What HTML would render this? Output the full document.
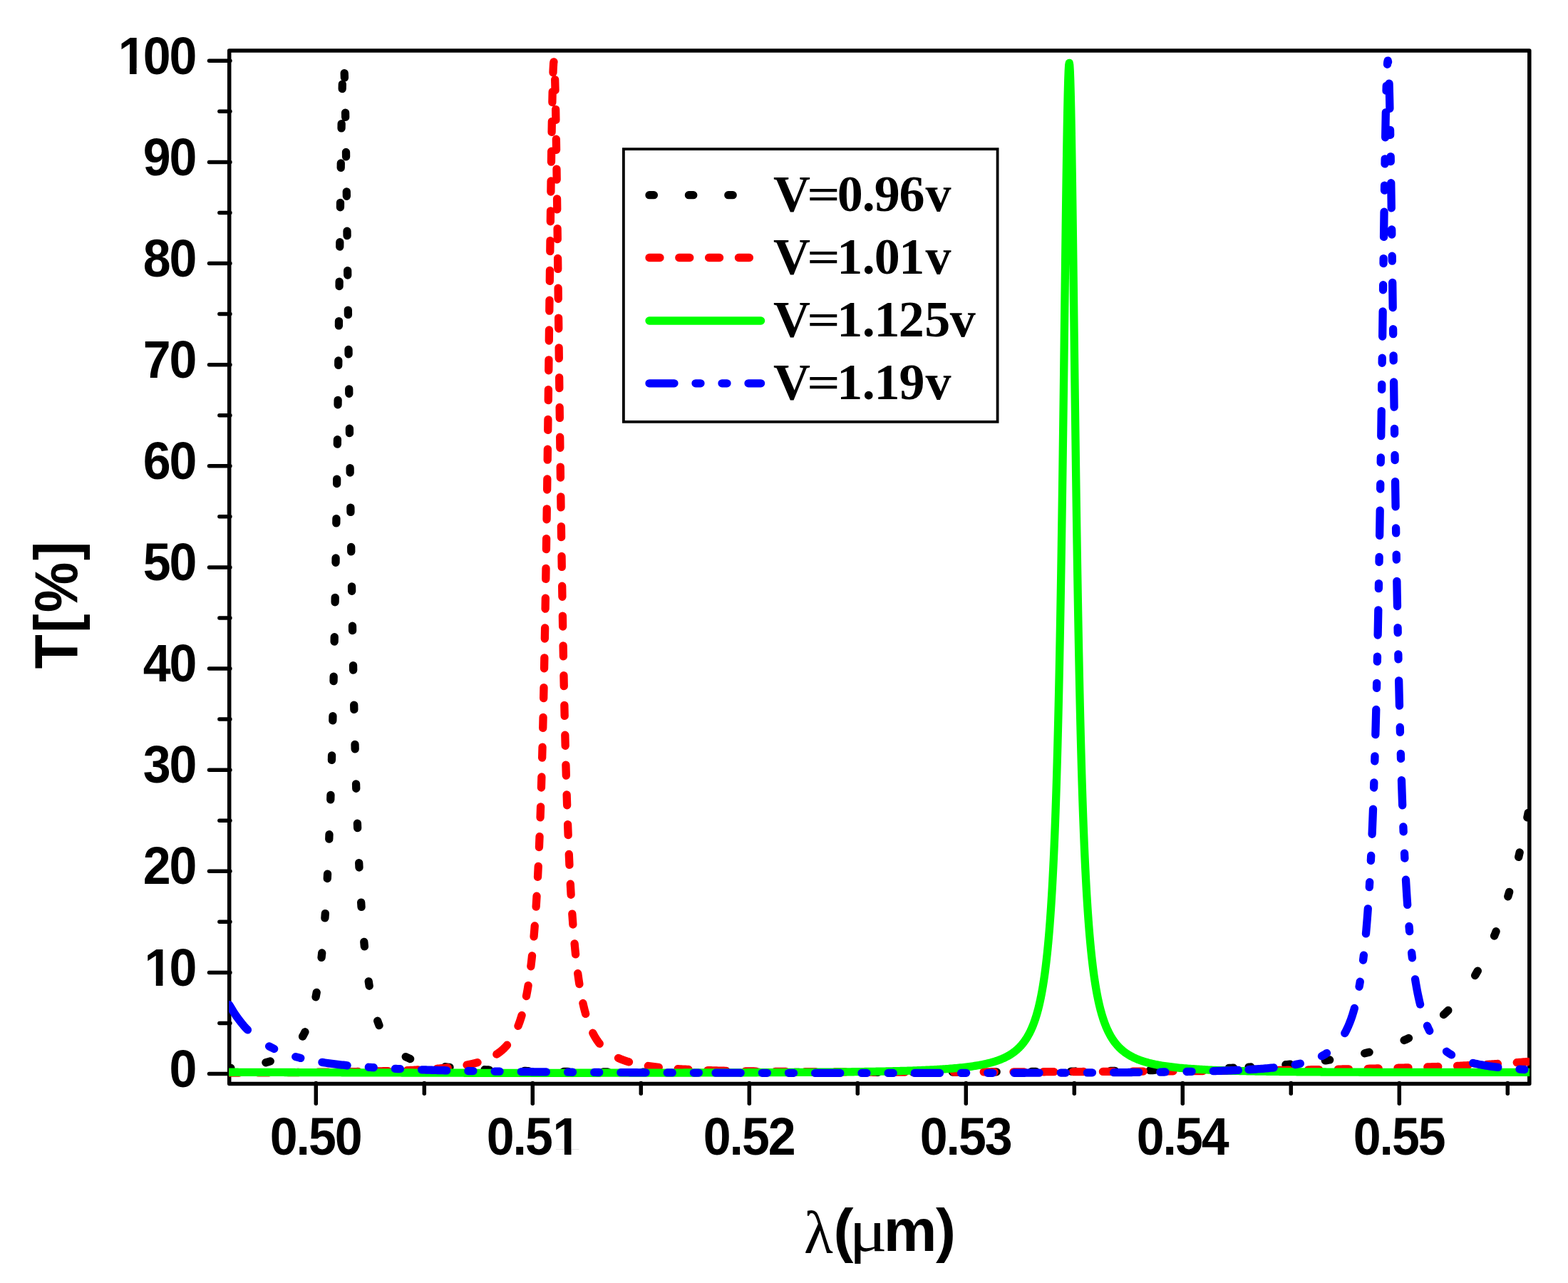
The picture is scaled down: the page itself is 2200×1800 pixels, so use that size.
<!DOCTYPE html><html><head><meta charset="utf-8"><style>html,body{margin:0;padding:0;background:#fff;width:2200px;height:1800px;overflow:hidden}svg{display:block}</style></head><body>
<svg width="2200" height="1800" viewBox="0 0 2200 1800">
<rect x="0" y="0" width="2200" height="1800" fill="#fff"/>
<g stroke="#000" fill="none" stroke-linecap="round">
<rect x="321.7" y="71.0" width="1824.1" height="1449.6" stroke-width="5.5" stroke-linejoin="round"/>
<line x1="322.9" y1="1506.50" x2="293.5" y2="1506.50" stroke-width="5.5"/>
<line x1="322.9" y1="1435.44" x2="307.9" y2="1435.44" stroke-width="5.5"/>
<line x1="322.9" y1="1364.38" x2="293.5" y2="1364.38" stroke-width="5.5"/>
<line x1="322.9" y1="1293.32" x2="307.9" y2="1293.32" stroke-width="5.5"/>
<line x1="322.9" y1="1222.26" x2="293.5" y2="1222.26" stroke-width="5.5"/>
<line x1="322.9" y1="1151.20" x2="307.9" y2="1151.20" stroke-width="5.5"/>
<line x1="322.9" y1="1080.14" x2="293.5" y2="1080.14" stroke-width="5.5"/>
<line x1="322.9" y1="1009.08" x2="307.9" y2="1009.08" stroke-width="5.5"/>
<line x1="322.9" y1="938.02" x2="293.5" y2="938.02" stroke-width="5.5"/>
<line x1="322.9" y1="866.96" x2="307.9" y2="866.96" stroke-width="5.5"/>
<line x1="322.9" y1="795.90" x2="293.5" y2="795.90" stroke-width="5.5"/>
<line x1="322.9" y1="724.84" x2="307.9" y2="724.84" stroke-width="5.5"/>
<line x1="322.9" y1="653.78" x2="293.5" y2="653.78" stroke-width="5.5"/>
<line x1="322.9" y1="582.72" x2="307.9" y2="582.72" stroke-width="5.5"/>
<line x1="322.9" y1="511.66" x2="293.5" y2="511.66" stroke-width="5.5"/>
<line x1="322.9" y1="440.60" x2="307.9" y2="440.60" stroke-width="5.5"/>
<line x1="322.9" y1="369.54" x2="293.5" y2="369.54" stroke-width="5.5"/>
<line x1="322.9" y1="298.48" x2="307.9" y2="298.48" stroke-width="5.5"/>
<line x1="322.9" y1="227.42" x2="293.5" y2="227.42" stroke-width="5.5"/>
<line x1="322.9" y1="156.36" x2="307.9" y2="156.36" stroke-width="5.5"/>
<line x1="322.9" y1="85.30" x2="293.5" y2="85.30" stroke-width="5.5"/>
<line x1="443.30" y1="1519.4" x2="443.30" y2="1548.2" stroke-width="5.5"/>
<line x1="595.30" y1="1519.4" x2="595.30" y2="1534.3" stroke-width="5.5"/>
<line x1="747.30" y1="1519.4" x2="747.30" y2="1548.2" stroke-width="5.5"/>
<line x1="899.30" y1="1519.4" x2="899.30" y2="1534.3" stroke-width="5.5"/>
<line x1="1051.30" y1="1519.4" x2="1051.30" y2="1548.2" stroke-width="5.5"/>
<line x1="1203.30" y1="1519.4" x2="1203.30" y2="1534.3" stroke-width="5.5"/>
<line x1="1355.30" y1="1519.4" x2="1355.30" y2="1548.2" stroke-width="5.5"/>
<line x1="1507.30" y1="1519.4" x2="1507.30" y2="1534.3" stroke-width="5.5"/>
<line x1="1659.30" y1="1519.4" x2="1659.30" y2="1548.2" stroke-width="5.5"/>
<line x1="1811.30" y1="1519.4" x2="1811.30" y2="1534.3" stroke-width="5.5"/>
<line x1="1963.30" y1="1519.4" x2="1963.30" y2="1548.2" stroke-width="5.5"/>
<line x1="2115.30" y1="1519.4" x2="2115.30" y2="1534.3" stroke-width="5.5"/>
</g>
<defs><clipPath id="pc"><rect x="321.10" y="61.0" width="1824.95" height="1459.6"/></clipPath></defs>
<g clip-path="url(#pc)" fill="none" stroke-width="11.3" stroke-linecap="round" stroke-linejoin="round">
<path d="M321.70,1498.51 L323.70,1498.34 L323.90,1498.32M372.90,1490.74 L373.00,1490.71 L373.50,1490.58 L373.70,1490.52 L374.00,1490.44 L374.50,1490.31 L375.00,1490.17 L375.50,1490.03 L375.70,1489.97 L376.00,1489.88 L376.50,1489.74 L377.00,1489.59 L377.50,1489.44 L377.70,1489.38 L378.00,1489.29 L378.50,1489.14 L379.00,1488.98 L379.30,1488.89M424.57,1454.16 L425.00,1453.41 L425.50,1452.52 L425.70,1452.16 L426.00,1451.61 L426.50,1450.68 L427.00,1449.72 L427.50,1448.74 L427.70,1448.34 L427.98,1447.76M443.03,1398.76 L443.50,1396.34 L443.70,1395.29 L444.00,1393.68 L444.24,1392.36M451.06,1343.36 L451.50,1339.26 L451.70,1337.32 L451.74,1336.96M455.89,1287.96 L456.00,1286.45 L456.34,1281.56M459.24,1232.56 L459.50,1227.44 L459.56,1226.16M461.76,1177.16 L462.00,1171.02 L462.01,1170.76M463.76,1121.76 L463.96,1115.36M465.41,1066.36 L465.50,1063.05 L465.58,1059.96M466.81,1010.96 L466.96,1004.56M468.04,955.56 L468.17,949.16M469.12,900.16 L469.24,893.76M470.10,844.76 L470.21,838.36M471.00,789.36 L471.00,789.16 L471.09,782.96M471.82,733.96 L471.92,727.56M472.60,678.56 L472.69,672.16M473.34,623.16 L473.42,616.76M474.04,567.76 L474.12,561.36M474.72,512.36 L474.80,505.96M475.40,456.96 L475.47,450.56M476.06,401.56 L476.14,395.16M476.74,346.16 L476.82,339.76M477.44,290.76 L477.50,286.26 L477.52,284.36M478.20,235.36 L478.29,228.96M479.05,179.96 L479.16,173.56M480.16,124.56 L480.32,118.16M483.19,102.65 L483.42,109.05M484.56,158.05 L484.68,164.45M485.49,213.45 L485.50,214.26 L485.58,219.85M486.27,268.85 L486.35,275.25M486.99,324.25 L487.00,325.32 L487.07,330.65M487.67,379.65 L487.70,382.08 L487.75,386.05M488.34,435.05 L488.42,441.45M489.01,490.45 L489.09,496.85M489.69,545.85 L489.70,547.02 L489.77,552.25M490.38,601.25 L490.46,607.65M491.10,656.65 L491.19,663.05M491.86,712.05 L491.95,718.45M492.67,767.45 L492.77,773.85M493.54,822.85 L493.64,829.25M494.48,878.25 L494.50,879.48 L494.59,884.65M495.52,933.65 L495.65,940.05M496.69,989.05 L496.83,995.45M498.01,1044.45 L498.18,1050.85M499.55,1099.85 L499.70,1104.62 L499.75,1106.25M501.40,1155.25 L501.50,1157.90 L501.64,1161.65M503.69,1210.65 L503.70,1210.90 L503.99,1217.05M506.66,1266.05 L507.00,1271.52 L507.06,1272.45M510.78,1321.45 L511.00,1323.88 L511.37,1327.85M517.20,1376.85 L517.50,1378.85 L517.70,1380.13 L518.00,1382.03 L518.20,1383.25M529.67,1432.25 L529.70,1432.34 L530.00,1433.20 L530.50,1434.60 L531.00,1435.97 L531.50,1437.29 L531.70,1437.81 L532.00,1438.58 L532.03,1438.65M569.21,1482.61 L569.50,1482.76 L569.70,1482.86 L570.00,1483.01 L570.50,1483.26 L571.00,1483.50 L571.50,1483.74 L571.70,1483.83 L572.00,1483.97 L572.50,1484.20 L573.00,1484.43 L573.50,1484.65 L573.70,1484.74 L574.00,1484.87 L574.50,1485.09 L575.00,1485.30 L575.50,1485.51 L575.61,1485.56M624.61,1496.67 L625.70,1496.80 L627.70,1497.03 L629.70,1497.25 L631.01,1497.39M680.01,1500.76 L681.70,1500.83 L683.70,1500.92 L685.70,1501.00 L686.41,1501.03M735.41,1502.46 L735.70,1502.47 L737.70,1502.51 L739.70,1502.55 L741.70,1502.59 L741.81,1502.59M790.81,1503.33 L791.70,1503.34 L793.70,1503.36 L795.70,1503.38 L797.21,1503.40M846.21,1503.81 L847.70,1503.82 L849.70,1503.83 L851.70,1503.85 L852.61,1503.85M901.61,1504.10 L901.70,1504.10 L903.70,1504.11 L905.70,1504.11 L907.70,1504.12 L908.01,1504.12M957.01,1504.27 L957.70,1504.27 L959.70,1504.28 L961.70,1504.28 L963.41,1504.29M1004.00,1504.36 L1005.70,1504.36 L1007.70,1504.37 L1009.70,1504.37 L1010.40,1504.37M1059.40,1504.42 L1059.70,1504.42 L1061.70,1504.42 L1063.70,1504.42 L1065.70,1504.42 L1065.80,1504.42M1114.80,1504.43 L1115.70,1504.43 L1117.70,1504.43 L1119.70,1504.43 L1121.20,1504.43M1170.20,1504.40 L1171.70,1504.40 L1173.70,1504.40 L1175.70,1504.39 L1176.60,1504.39M1225.60,1504.33 L1225.70,1504.33 L1227.70,1504.33 L1229.70,1504.32 L1231.70,1504.32 L1232.00,1504.32M1281.00,1504.22 L1281.70,1504.22 L1283.70,1504.21 L1285.70,1504.21 L1287.40,1504.20M1336.40,1504.06 L1337.70,1504.05 L1339.70,1504.05 L1341.70,1504.04 L1342.80,1504.04M1391.80,1503.83 L1393.70,1503.82 L1395.70,1503.81 L1397.70,1503.80 L1398.20,1503.80M1447.20,1503.51 L1447.70,1503.51 L1449.70,1503.50 L1451.70,1503.48 L1453.60,1503.47M1502.60,1503.07 L1503.70,1503.06 L1505.70,1503.05 L1507.70,1503.03 L1509.00,1503.01M1558.00,1502.46 L1559.70,1502.44 L1561.70,1502.41 L1563.70,1502.38 L1564.40,1502.37M1613.40,1501.59 L1613.70,1501.58 L1615.70,1501.54 L1617.70,1501.50 L1619.70,1501.47 L1619.80,1501.46M1668.80,1500.32 L1669.70,1500.29 L1671.70,1500.24 L1673.70,1500.18 L1675.20,1500.14M1724.20,1498.42 L1725.70,1498.36 L1727.70,1498.27 L1729.70,1498.19 L1730.60,1498.15M1752.00,1497.12 L1753.70,1497.03 L1754.90,1496.97M1803.90,1493.73 L1805.70,1493.58 L1807.70,1493.41 L1809.70,1493.24 L1810.30,1493.19M1859.30,1487.88 L1859.70,1487.83 L1861.70,1487.55 L1863.70,1487.27 L1865.70,1486.99M1914.70,1477.82 L1915.70,1477.59 L1917.70,1477.10 L1919.70,1476.60 L1921.10,1476.24M1970.10,1459.47 L1971.70,1458.75 L1973.70,1457.82 L1975.70,1456.87 L1976.50,1456.48M2025.50,1423.58 L2025.70,1423.40 L2027.70,1421.55 L2029.70,1419.66 L2031.70,1417.71 L2031.90,1417.51M2069.60,1368.51 L2069.70,1368.34 L2071.70,1364.93 L2073.31,1362.11M2096.55,1313.11 L2097.70,1310.25 L2099.08,1306.71M2115.77,1257.71 L2117.67,1251.31M2130.67,1202.31 L2131.70,1198.04 L2132.20,1195.91M2142.86,1146.91 L2143.70,1142.76 L2144.14,1140.51" stroke="#000000"/>
<path d="M321.70,1505.09 L323.70,1505.08 L325.70,1505.07 L327.70,1505.06 L329.70,1505.05 L331.70,1505.04 L333.70,1505.03 L335.61,1505.03M362.41,1504.89 L363.70,1504.89 L365.70,1504.87 L367.70,1504.86 L369.70,1504.85 L371.70,1504.84 L373.70,1504.83 L375.70,1504.82 L377.41,1504.81M404.21,1504.63 L405.70,1504.62 L407.70,1504.60 L409.70,1504.59 L411.70,1504.57 L413.70,1504.56 L415.70,1504.54 L417.70,1504.52 L419.21,1504.51M446.01,1504.27 L447.70,1504.25 L449.70,1504.23 L451.70,1504.21 L453.70,1504.19 L455.70,1504.16 L457.70,1504.14 L459.70,1504.12 L461.01,1504.10M487.81,1503.75 L489.70,1503.72 L491.70,1503.69 L493.70,1503.66 L495.70,1503.62 L497.70,1503.59 L499.70,1503.56 L501.70,1503.52 L502.81,1503.50M529.61,1502.96 L529.70,1502.96 L531.70,1502.91 L533.70,1502.86 L535.70,1502.81 L537.70,1502.76 L539.70,1502.70 L541.70,1502.65 L543.70,1502.59 L544.61,1502.57M571.41,1501.66 L571.70,1501.64 L573.70,1501.56 L575.70,1501.48 L577.70,1501.39 L579.70,1501.30 L581.70,1501.21 L583.70,1501.11 L585.70,1501.01 L586.41,1500.97M613.21,1499.27 L613.70,1499.23 L615.70,1499.06 L617.70,1498.89 L619.70,1498.72 L621.70,1498.54 L623.70,1498.35 L625.70,1498.15 L627.70,1497.95 L628.21,1497.89M655.01,1494.08 L655.70,1493.95 L657.15,1493.67 L657.65,1493.56 L657.70,1493.55 L658.15,1493.46 L658.65,1493.36 L659.15,1493.26 L659.65,1493.15 L659.70,1493.14 L660.15,1493.04 L660.65,1492.93 L661.15,1492.82 L661.65,1492.71 L661.70,1492.70 L662.15,1492.60 L662.65,1492.49 L663.15,1492.37 L663.65,1492.25 L663.70,1492.24 L664.15,1492.14 L664.65,1492.02 L665.15,1491.89 L665.65,1491.77 L665.70,1491.76 L666.15,1491.65 L666.65,1491.52 L667.15,1491.39 L667.65,1491.26 L667.70,1491.25 L668.15,1491.13 L668.65,1491.00 L669.15,1490.86 L669.65,1490.72 L669.70,1490.71 L670.01,1490.62M696.81,1479.08 L697.15,1478.86 L697.65,1478.53 L697.70,1478.49 L698.15,1478.19 L698.65,1477.84 L699.15,1477.49 L699.65,1477.13 L699.70,1477.10 L700.15,1476.77 L700.65,1476.40 L701.15,1476.02 L701.65,1475.63 L701.70,1475.59 L702.15,1475.24 L702.65,1474.84 L703.15,1474.43 L703.65,1474.01 L703.70,1473.97 L704.15,1473.59 L704.65,1473.15 L705.15,1472.71 L705.65,1472.26 L705.70,1472.21 L706.15,1471.79 L706.65,1471.32 L707.15,1470.84 L707.65,1470.35 L707.70,1470.30 L708.15,1469.85 L708.65,1469.34 L709.15,1468.82 L709.65,1468.28 L709.70,1468.23 L710.15,1467.74 L710.65,1467.18 L711.15,1466.61 L711.51,1466.19M726.98,1439.39 L727.15,1438.96 L727.65,1437.67 L727.70,1437.54 L728.15,1436.35 L728.65,1434.98 L729.15,1433.58 L729.65,1432.13 L729.70,1431.98 L730.15,1430.64 L730.65,1429.10 L731.15,1427.52 L731.65,1425.89 L731.70,1425.73 L732.10,1424.39M738.47,1397.59 L738.65,1396.68 L739.15,1394.02 L739.65,1391.26 L739.70,1390.98 L740.15,1388.41 L740.65,1385.45 L741.11,1382.59M744.83,1355.79 L745.15,1353.15 L745.65,1348.81 L745.70,1348.36 L746.15,1344.29 L746.52,1340.79M749.05,1313.99 L749.15,1312.80 L749.65,1306.72 L749.70,1306.10 L750.15,1300.36 L750.25,1298.99M752.13,1272.19 L752.15,1271.83 L752.65,1263.83 L753.05,1257.19M754.51,1230.39 L754.65,1227.72 L755.15,1217.53 L755.25,1215.39M756.44,1188.59 L756.65,1183.74 L757.06,1173.59M758.06,1146.79 L758.15,1144.35 L758.58,1131.79M759.44,1104.99 L759.65,1098.29 L759.70,1096.63 L759.89,1089.99M760.65,1063.19 L761.05,1048.19M761.72,1021.39 L762.08,1006.39M762.68,979.59 L763.00,964.59M763.55,937.79 L763.65,932.93 L763.70,930.40 L763.85,922.79M764.35,895.99 L764.63,880.99M765.09,854.19 L765.15,850.95 L765.35,839.19M765.78,812.39 L766.02,797.39M766.43,770.59 L766.65,756.31 L766.66,755.59M767.05,728.79 L767.15,721.90 L767.26,713.79M767.64,686.99 L767.65,686.11 L767.70,682.45 L767.84,671.99M768.20,645.19 L768.40,630.19M768.74,603.39 L768.93,588.39M769.27,561.59 L769.45,546.59M769.78,519.79 L769.97,504.79M770.29,477.99 L770.47,462.99M770.80,436.19 L770.98,421.19M771.30,394.39 L771.48,379.39M771.81,352.59 L772.00,337.59M772.34,310.79 L772.53,295.79M772.88,268.99 L773.08,253.99M773.46,227.19 L773.65,214.22 L773.68,212.19M774.10,185.39 L774.15,182.47 L774.36,170.39M774.88,143.59 L775.15,130.47 L775.20,128.59M775.99,101.79 L776.15,97.25 L776.65,88.70 L776.98,86.79M778.66,111.65 L779.05,126.65M779.63,153.45 L779.65,154.36 L779.70,156.99 L779.90,168.45M780.35,195.25 L780.59,210.25M780.98,237.05 L781.15,249.00 L781.19,252.05M781.55,278.85 L781.65,286.22 L781.70,290.06 L781.75,293.85M782.09,320.65 L782.15,325.30 L782.28,335.65M782.61,362.45 L782.65,365.68 L782.79,377.45M783.12,404.25 L783.15,406.85 L783.30,419.25M783.62,446.05 L783.65,448.35 L783.70,452.51 L783.80,461.05M784.13,487.85 L784.15,489.79 L784.31,502.85M784.64,529.65 L784.65,530.83 L784.82,544.65M785.15,571.45 L785.34,586.45M785.68,613.25 L785.70,614.51 L785.88,628.25M786.23,655.05 L786.43,670.05M786.80,696.85 L787.01,711.85M787.39,738.65 L787.61,753.65M788.02,780.45 L788.15,789.28 L788.25,795.45M788.67,822.25 L788.92,837.25M789.38,864.05 L789.64,879.05M790.13,905.85 L790.15,906.94 L790.42,920.85M790.95,947.65 L791.15,957.57 L791.26,962.65M791.84,989.45 L792.15,1003.21 L792.18,1004.45M792.82,1031.25 L793.15,1044.28 L793.20,1046.25M793.92,1073.05 L794.15,1081.21 L794.35,1088.05M795.16,1114.85 L795.65,1129.76 L795.65,1129.85M796.60,1156.65 L796.65,1158.12 L797.15,1171.24 L797.17,1171.65M798.28,1198.45 L798.65,1206.79 L798.96,1213.45M800.31,1240.25 L800.65,1246.60 L801.14,1255.25M802.83,1282.05 L803.15,1286.69 L803.65,1293.65 L803.70,1294.33 L803.90,1297.05M806.12,1323.85 L806.15,1324.15 L806.65,1329.49 L807.15,1334.61 L807.58,1338.85M810.72,1365.65 L811.15,1368.82 L811.65,1372.38 L811.70,1372.73 L812.15,1375.81 L812.65,1379.12 L812.89,1380.65M817.89,1407.45 L818.15,1408.60 L818.65,1410.77 L819.15,1412.86 L819.65,1414.89 L819.70,1415.09 L820.15,1416.86 L820.65,1418.76 L821.15,1420.60 L821.65,1422.39 L821.67,1422.45M831.78,1449.25 L832.15,1449.98 L832.65,1450.93 L833.15,1451.87 L833.65,1452.78 L833.70,1452.87 L834.15,1453.67 L834.65,1454.53 L835.15,1455.37 L835.65,1456.20 L835.70,1456.28 L836.15,1457.00 L836.65,1457.79 L837.15,1458.55 L837.65,1459.30 L837.70,1459.37 L838.15,1460.03 L838.65,1460.74 L839.15,1461.44 L839.65,1462.12 L839.70,1462.19 L840.15,1462.79 L840.65,1463.44 L841.15,1464.07 L841.29,1464.25M867.49,1484.39 L867.65,1484.46 L867.70,1484.48 L868.15,1484.69 L868.65,1484.91 L869.15,1485.13 L869.65,1485.34 L869.70,1485.37 L870.15,1485.56 L870.65,1485.77 L871.15,1485.97 L871.65,1486.17 L871.70,1486.19 L872.15,1486.37 L872.65,1486.57 L873.15,1486.76 L873.65,1486.95 L873.70,1486.97 L874.15,1487.14 L874.65,1487.33 L875.15,1487.51 L875.65,1487.69 L875.70,1487.71 L876.15,1487.86 L876.65,1488.04 L877.15,1488.21 L877.65,1488.38 L877.70,1488.39 L878.15,1488.54 L878.65,1488.71 L879.15,1488.87 L879.65,1489.03 L879.70,1489.05 L880.15,1489.19 L880.65,1489.34 L881.15,1489.49 L881.65,1489.64 L881.70,1489.66 L882.15,1489.79 L882.49,1489.89M909.29,1495.50 L909.70,1495.56 L911.70,1495.85 L913.70,1496.12 L915.70,1496.39 L917.70,1496.64 L919.70,1496.88 L921.70,1497.11 L923.70,1497.33 L924.29,1497.39M951.09,1499.64 L951.70,1499.67 L953.70,1499.80 L955.70,1499.92 L957.70,1500.04 L959.70,1500.15 L961.70,1500.26 L963.70,1500.37 L965.70,1500.47 L966.09,1500.49M992.89,1501.59 L993.70,1501.61 L995.70,1501.68 L997.70,1501.74 L999.70,1501.80 L1001.70,1501.86 L1003.70,1501.92 L1004.00,1501.93M1004.00,1501.93 L1005.70,1501.97 L1007.70,1502.03 L1009.70,1502.08 L1011.70,1502.13 L1013.70,1502.18 L1015.70,1502.23 L1017.70,1502.28 L1019.00,1502.31M1045.80,1502.83 L1047.70,1502.86 L1049.70,1502.89 L1051.70,1502.92 L1053.70,1502.95 L1055.70,1502.98 L1057.70,1503.01 L1059.70,1503.04 L1060.80,1503.05M1087.60,1503.37 L1087.70,1503.37 L1089.70,1503.39 L1091.70,1503.41 L1093.70,1503.42 L1095.70,1503.44 L1097.70,1503.46 L1099.70,1503.48 L1101.70,1503.49 L1102.60,1503.50M1129.40,1503.69 L1129.70,1503.69 L1131.70,1503.70 L1133.70,1503.72 L1135.70,1503.73 L1137.70,1503.74 L1139.70,1503.75 L1141.70,1503.76 L1143.70,1503.77 L1144.40,1503.77M1171.20,1503.89 L1171.70,1503.89 L1173.70,1503.90 L1175.70,1503.90 L1177.70,1503.91 L1179.70,1503.92 L1181.70,1503.92 L1183.70,1503.93 L1185.70,1503.93 L1186.20,1503.94M1213.00,1504.00 L1213.70,1504.00 L1215.70,1504.00 L1217.70,1504.01 L1219.70,1504.01 L1221.70,1504.01 L1223.70,1504.02 L1225.70,1504.02 L1227.70,1504.02 L1228.00,1504.02M1254.80,1504.05 L1255.70,1504.05 L1257.70,1504.05 L1259.70,1504.05 L1261.70,1504.05 L1263.70,1504.05 L1265.70,1504.05 L1267.70,1504.06 L1269.70,1504.06 L1269.80,1504.06M1296.60,1504.05 L1297.70,1504.05 L1299.70,1504.05 L1301.70,1504.05 L1303.70,1504.05 L1305.70,1504.05 L1307.70,1504.05 L1309.70,1504.05 L1311.60,1504.05M1338.40,1504.02 L1339.70,1504.02 L1341.70,1504.02 L1343.70,1504.01 L1345.70,1504.01 L1347.70,1504.01 L1349.70,1504.01 L1351.70,1504.00 L1353.40,1504.00M1380.20,1503.96 L1381.70,1503.95 L1383.70,1503.95 L1385.70,1503.94 L1387.70,1503.94 L1389.70,1503.94 L1391.70,1503.93 L1393.70,1503.93 L1395.20,1503.92M1422.00,1503.86 L1423.70,1503.86 L1425.70,1503.85 L1427.70,1503.85 L1429.70,1503.84 L1431.70,1503.83 L1433.70,1503.83 L1435.70,1503.82 L1437.00,1503.82M1463.80,1503.74 L1465.70,1503.73 L1467.70,1503.72 L1469.70,1503.72 L1471.70,1503.71 L1473.70,1503.70 L1475.70,1503.70 L1477.70,1503.69 L1478.80,1503.69M1505.60,1503.58 L1505.70,1503.58 L1507.70,1503.57 L1509.70,1503.57 L1511.70,1503.56 L1513.70,1503.55 L1515.70,1503.54 L1517.70,1503.53 L1519.70,1503.52 L1520.60,1503.52M1547.40,1503.40 L1547.70,1503.40 L1549.70,1503.39 L1551.70,1503.38 L1553.70,1503.37 L1555.70,1503.36 L1557.70,1503.35 L1559.70,1503.34 L1561.70,1503.33 L1562.40,1503.32M1589.20,1503.18 L1589.70,1503.18 L1591.70,1503.17 L1593.70,1503.15 L1595.70,1503.14 L1597.70,1503.13 L1599.70,1503.12 L1601.70,1503.11 L1603.70,1503.09 L1604.20,1503.09M1631.00,1502.92 L1631.70,1502.92 L1633.70,1502.90 L1635.70,1502.89 L1637.70,1502.88 L1639.70,1502.86 L1641.70,1502.85 L1643.70,1502.83 L1645.70,1502.82 L1646.00,1502.82M1672.80,1502.62 L1673.70,1502.61 L1675.70,1502.60 L1677.70,1502.58 L1679.70,1502.56 L1681.70,1502.55 L1683.70,1502.53 L1685.70,1502.52 L1687.70,1502.50 L1687.80,1502.50M1714.60,1502.26 L1715.70,1502.25 L1717.70,1502.23 L1719.70,1502.22 L1721.70,1502.20 L1723.70,1502.18 L1725.70,1502.16 L1727.70,1502.14 L1729.60,1502.12M1752.00,1501.89 L1753.70,1501.87 L1755.70,1501.85 L1757.70,1501.83 L1759.70,1501.81 L1761.70,1501.79 L1763.70,1501.76 L1765.70,1501.74 L1767.00,1501.73M1793.80,1501.41 L1795.70,1501.38 L1797.70,1501.36 L1799.70,1501.33 L1801.70,1501.31 L1803.70,1501.28 L1805.70,1501.25 L1807.70,1501.23 L1808.80,1501.21M1835.60,1500.83 L1835.70,1500.83 L1837.70,1500.80 L1839.70,1500.77 L1841.70,1500.74 L1843.70,1500.71 L1845.70,1500.67 L1847.70,1500.64 L1849.70,1500.61 L1850.60,1500.60M1877.40,1500.14 L1877.70,1500.13 L1879.70,1500.10 L1881.70,1500.06 L1883.70,1500.02 L1885.70,1499.98 L1887.70,1499.95 L1889.70,1499.91 L1891.70,1499.87 L1892.40,1499.86M1919.20,1499.30 L1919.70,1499.29 L1921.70,1499.25 L1923.70,1499.20 L1925.70,1499.15 L1927.70,1499.11 L1929.70,1499.06 L1931.70,1499.02 L1933.70,1498.97 L1934.20,1498.96M1961.00,1498.28 L1961.70,1498.26 L1963.70,1498.20 L1965.70,1498.15 L1967.70,1498.09 L1969.70,1498.04 L1971.70,1497.98 L1973.70,1497.92 L1975.70,1497.86 L1976.00,1497.85M2002.80,1497.01 L2003.70,1496.98 L2005.70,1496.91 L2007.70,1496.84 L2009.70,1496.77 L2011.70,1496.70 L2013.70,1496.63 L2015.70,1496.55 L2017.70,1496.48 L2017.80,1496.48M2044.60,1495.41 L2045.70,1495.36 L2047.70,1495.28 L2049.70,1495.19 L2051.70,1495.10 L2053.70,1495.01 L2055.70,1494.92 L2057.70,1494.82 L2059.60,1494.74M2086.40,1493.36 L2087.70,1493.29 L2089.70,1493.18 L2091.70,1493.06 L2093.70,1492.95 L2095.70,1492.83 L2097.70,1492.71 L2099.70,1492.59 L2101.40,1492.48M2128.20,1490.68 L2129.70,1490.57 L2131.70,1490.41 L2133.70,1490.26 L2135.70,1490.11 L2137.70,1489.95 L2139.70,1489.79 L2141.70,1489.63 L2143.20,1489.51" stroke="#ff0000"/>
<path d="M321.70,1504.24 L323.70,1504.24 L325.70,1504.25 L327.70,1504.26 L329.70,1504.26 L331.70,1504.27 L333.70,1504.27 L335.70,1504.28 L337.70,1504.29 L339.70,1504.29 L341.70,1504.30 L343.70,1504.31 L345.70,1504.31 L347.70,1504.32 L349.70,1504.32 L351.70,1504.33 L353.70,1504.34 L355.70,1504.34 L357.70,1504.35 L359.70,1504.36 L361.70,1504.36 L363.70,1504.37 L365.70,1504.37 L367.70,1504.38 L369.70,1504.39 L371.70,1504.39 L373.70,1504.40 L375.70,1504.41 L377.70,1504.41 L379.70,1504.42 L381.70,1504.42 L383.70,1504.43 L385.70,1504.44 L387.70,1504.44 L389.70,1504.45 L391.70,1504.46 L393.70,1504.46 L395.70,1504.47 L397.70,1504.47 L399.70,1504.48 L401.70,1504.49 L403.70,1504.49 L405.70,1504.50 L407.70,1504.51 L409.70,1504.51 L411.70,1504.52 L413.70,1504.52 L415.70,1504.53 L417.70,1504.54 L419.70,1504.54 L421.70,1504.55 L423.70,1504.56 L425.70,1504.56 L427.70,1504.57 L429.70,1504.57 L431.70,1504.58 L433.70,1504.59 L435.70,1504.59 L437.70,1504.60 L439.70,1504.60 L441.70,1504.61 L443.70,1504.62 L445.70,1504.62 L447.70,1504.63 L449.70,1504.64 L451.70,1504.64 L453.70,1504.65 L455.70,1504.65 L457.70,1504.66 L459.70,1504.67 L461.70,1504.67 L463.70,1504.68 L465.70,1504.68 L467.70,1504.69 L469.70,1504.70 L471.70,1504.70 L473.70,1504.71 L475.70,1504.71 L477.70,1504.72 L479.70,1504.73 L481.70,1504.73 L483.70,1504.74 L485.70,1504.75 L487.70,1504.75 L489.70,1504.76 L491.70,1504.76 L493.70,1504.77 L495.70,1504.78 L497.70,1504.78 L499.70,1504.79 L501.70,1504.79 L503.70,1504.80 L505.70,1504.81 L507.70,1504.81 L509.70,1504.82 L511.70,1504.82 L513.70,1504.83 L515.70,1504.84 L517.70,1504.84 L519.70,1504.85 L521.70,1504.85 L523.70,1504.86 L525.70,1504.87 L527.70,1504.87 L529.70,1504.88 L531.70,1504.88 L533.70,1504.89 L535.70,1504.90 L537.70,1504.90 L539.70,1504.91 L541.70,1504.91 L543.70,1504.92 L545.70,1504.92 L547.70,1504.93 L549.70,1504.94 L551.70,1504.94 L553.70,1504.95 L555.70,1504.95 L557.70,1504.96 L559.70,1504.97 L561.70,1504.97 L563.70,1504.98 L565.70,1504.98 L567.70,1504.99 L569.70,1505.00 L571.70,1505.00 L573.70,1505.01 L575.70,1505.01 L577.70,1505.02 L579.70,1505.02 L581.70,1505.03 L583.70,1505.04 L585.70,1505.04 L587.70,1505.05 L589.70,1505.05 L591.70,1505.06 L593.70,1505.07 L595.70,1505.07 L597.70,1505.08 L599.70,1505.08 L601.70,1505.09 L603.70,1505.09 L605.70,1505.10 L607.70,1505.11 L609.70,1505.11 L611.70,1505.12 L613.70,1505.12 L615.70,1505.13 L617.70,1505.13 L619.70,1505.14 L621.70,1505.15 L623.70,1505.15 L625.70,1505.16 L627.70,1505.16 L629.70,1505.17 L631.70,1505.17 L633.70,1505.18 L635.70,1505.19 L637.70,1505.19 L639.70,1505.20 L641.70,1505.20 L643.70,1505.21 L645.70,1505.21 L647.70,1505.22 L649.70,1505.22 L651.70,1505.23 L653.70,1505.24 L655.70,1505.24 L657.70,1505.25 L659.70,1505.25 L661.70,1505.26 L663.70,1505.26 L665.70,1505.27 L667.70,1505.27 L669.70,1505.28 L671.70,1505.29 L673.70,1505.29 L675.70,1505.30 L677.70,1505.30 L679.70,1505.31 L681.70,1505.31 L683.70,1505.32 L685.70,1505.32 L687.70,1505.33 L689.70,1505.33 L691.70,1505.34 L693.70,1505.34 L695.70,1505.35 L697.70,1505.36 L699.70,1505.36 L701.70,1505.36 L703.70,1505.36 L705.70,1505.36 L707.70,1505.36 L709.70,1505.35 L711.70,1505.35 L713.70,1505.35 L715.70,1505.35 L717.70,1505.35 L719.70,1505.35 L721.70,1505.35 L723.70,1505.34 L725.70,1505.34 L727.70,1505.34 L729.70,1505.34 L731.70,1505.34 L733.70,1505.34 L735.70,1505.33 L737.70,1505.33 L739.70,1505.33 L741.70,1505.33 L743.70,1505.33 L745.70,1505.33 L747.70,1505.32 L749.70,1505.32 L751.70,1505.32 L753.70,1505.32 L755.70,1505.32 L757.70,1505.32 L759.70,1505.31 L761.70,1505.31 L763.70,1505.31 L765.70,1505.31 L767.70,1505.31 L769.70,1505.30 L771.70,1505.30 L773.70,1505.30 L775.70,1505.30 L777.70,1505.30 L779.70,1505.30 L781.70,1505.29 L783.70,1505.29 L785.70,1505.29 L787.70,1505.29 L789.70,1505.29 L791.70,1505.28 L793.70,1505.28 L795.70,1505.28 L797.70,1505.28 L799.70,1505.27 L801.70,1505.27 L803.70,1505.27 L805.70,1505.27 L807.70,1505.27 L809.70,1505.26 L811.70,1505.26 L813.70,1505.26 L815.70,1505.26 L817.70,1505.25 L819.70,1505.25 L821.70,1505.25 L823.70,1505.25 L825.70,1505.25 L827.70,1505.24 L829.70,1505.24 L831.70,1505.24 L833.70,1505.24 L835.70,1505.23 L837.70,1505.23 L839.70,1505.23 L841.70,1505.23 L843.70,1505.22 L845.70,1505.22 L847.70,1505.22 L849.70,1505.22 L851.70,1505.21 L853.70,1505.21 L855.70,1505.21 L857.70,1505.20 L859.70,1505.20 L861.70,1505.20 L863.70,1505.20 L865.70,1505.19 L867.70,1505.19 L869.70,1505.19 L871.70,1505.18 L873.70,1505.18 L875.70,1505.18 L877.70,1505.18 L879.70,1505.17 L881.70,1505.17 L883.70,1505.17 L885.70,1505.16 L887.70,1505.16 L889.70,1505.16 L891.70,1505.15 L893.70,1505.15 L895.70,1505.15 L897.70,1505.14 L899.70,1505.14 L901.70,1505.14 L903.70,1505.13 L905.70,1505.13 L907.70,1505.13 L909.70,1505.12 L911.70,1505.12 L913.70,1505.12 L915.70,1505.11 L917.70,1505.11 L919.70,1505.10 L921.70,1505.10 L923.70,1505.10 L925.70,1505.09 L927.70,1505.09 L929.70,1505.09 L931.70,1505.08 L933.70,1505.08 L935.70,1505.07 L937.70,1505.07 L939.70,1505.07 L941.70,1505.06 L943.70,1505.06 L945.70,1505.05 L947.70,1505.05 L949.70,1505.04 L951.70,1505.04 L953.70,1505.04 L955.70,1505.03 L957.70,1505.03 L959.70,1505.02 L961.70,1505.02 L963.70,1505.01 L965.70,1505.01 L967.70,1505.00 L969.70,1505.00 L971.70,1504.99 L973.70,1504.99 L975.70,1504.98 L977.70,1504.98 L979.70,1504.97 L981.70,1504.97 L983.70,1504.96 L985.70,1504.96 L987.70,1504.95 L989.70,1504.95 L991.70,1504.94 L993.70,1504.93 L995.70,1504.93 L997.70,1504.92 L999.70,1504.92 L1001.70,1504.91 L1003.70,1504.91 L1004.00,1504.91 L1005.70,1504.90 L1007.70,1504.90 L1009.70,1504.89 L1011.70,1504.89 L1013.70,1504.88 L1015.70,1504.88 L1017.70,1504.87 L1019.70,1504.86 L1021.70,1504.86 L1023.70,1504.85 L1025.70,1504.85 L1027.70,1504.84 L1029.70,1504.84 L1031.70,1504.83 L1033.70,1504.82 L1035.70,1504.82 L1037.70,1504.81 L1039.70,1504.80 L1041.70,1504.80 L1043.70,1504.79 L1045.70,1504.78 L1047.70,1504.78 L1049.70,1504.77 L1051.70,1504.76 L1053.70,1504.76 L1055.70,1504.75 L1057.70,1504.74 L1059.70,1504.73 L1061.70,1504.73 L1063.70,1504.72 L1065.70,1504.71 L1067.70,1504.70 L1069.70,1504.69 L1071.70,1504.69 L1073.70,1504.68 L1075.70,1504.67 L1077.70,1504.66 L1079.70,1504.65 L1081.70,1504.64 L1083.70,1504.63 L1085.70,1504.62 L1087.70,1504.61 L1089.70,1504.61 L1091.70,1504.60 L1093.70,1504.59 L1095.70,1504.58 L1097.70,1504.57 L1099.70,1504.56 L1101.70,1504.54 L1103.70,1504.53 L1105.70,1504.52 L1107.70,1504.51 L1109.70,1504.50 L1111.70,1504.49 L1113.70,1504.48 L1115.70,1504.47 L1117.70,1504.45 L1119.70,1504.44 L1121.70,1504.43 L1123.70,1504.42 L1125.70,1504.40 L1127.70,1504.39 L1129.70,1504.38 L1131.70,1504.36 L1133.70,1504.35 L1135.70,1504.34 L1137.70,1504.32 L1139.70,1504.31 L1141.70,1504.29 L1143.70,1504.28 L1145.70,1504.26 L1147.70,1504.25 L1149.70,1504.23 L1151.70,1504.22 L1153.70,1504.20 L1155.70,1504.18 L1157.70,1504.16 L1159.70,1504.15 L1161.70,1504.13 L1163.70,1504.11 L1165.70,1504.09 L1167.70,1504.07 L1169.70,1504.06 L1171.70,1504.04 L1173.70,1504.02 L1175.70,1504.00 L1177.70,1503.98 L1179.70,1503.95 L1181.70,1503.93 L1183.70,1503.91 L1185.70,1503.89 L1187.70,1503.87 L1189.70,1503.84 L1191.70,1503.82 L1193.70,1503.80 L1195.70,1503.77 L1197.70,1503.75 L1199.70,1503.72 L1201.70,1503.69 L1203.70,1503.67 L1205.70,1503.64 L1207.70,1503.61 L1209.70,1503.58 L1211.70,1503.55 L1213.70,1503.52 L1215.70,1503.49 L1217.70,1503.46 L1219.70,1503.43 L1221.70,1503.40 L1223.70,1503.37 L1225.70,1503.33 L1227.70,1503.30 L1229.70,1503.26 L1231.70,1503.23 L1233.70,1503.19 L1235.70,1503.15 L1237.70,1503.11 L1239.70,1503.07 L1241.70,1503.03 L1243.70,1502.99 L1245.70,1502.95 L1247.70,1502.90 L1249.70,1502.86 L1251.70,1502.81 L1253.70,1502.76 L1255.70,1502.72 L1257.70,1502.67 L1259.70,1502.62 L1261.70,1502.56 L1263.70,1502.51 L1265.70,1502.46 L1267.70,1502.40 L1269.70,1502.34 L1271.70,1502.28 L1273.70,1502.22 L1275.70,1502.16 L1277.70,1502.10 L1279.70,1502.03 L1281.70,1501.96 L1283.70,1501.89 L1285.70,1501.82 L1287.70,1501.75 L1289.70,1501.67 L1291.70,1501.59 L1293.70,1501.51 L1295.70,1501.43 L1297.70,1501.34 L1299.70,1501.26 L1301.70,1501.16 L1303.70,1501.07 L1305.70,1500.97 L1307.70,1500.87 L1309.70,1500.77 L1311.70,1500.66 L1313.70,1500.55 L1315.70,1500.44 L1317.70,1500.32 L1319.70,1500.20 L1321.70,1500.07 L1323.70,1499.94 L1325.70,1499.81 L1327.70,1499.67 L1329.70,1499.53 L1331.70,1499.38 L1333.70,1499.23 L1335.70,1499.07 L1337.70,1498.90 L1339.70,1498.73 L1341.70,1498.55 L1343.70,1498.36 L1345.70,1498.17 L1347.70,1497.97 L1349.70,1497.76 L1351.70,1497.55 L1353.70,1497.32 L1355.70,1497.09 L1357.70,1496.84 L1359.70,1496.59 L1361.70,1496.32 L1363.70,1496.05 L1365.70,1495.76 L1367.70,1495.45 L1369.70,1495.14 L1371.70,1494.80 L1373.70,1494.46 L1375.70,1494.09 L1377.70,1493.71 L1379.70,1493.31 L1380.24,1493.20 L1380.74,1493.10 L1381.24,1492.99 L1381.70,1492.89 L1381.74,1492.88 L1382.24,1492.77 L1382.74,1492.66 L1383.24,1492.55 L1383.70,1492.45 L1383.74,1492.44 L1384.24,1492.33 L1384.74,1492.21 L1385.24,1492.09 L1385.70,1491.98 L1385.74,1491.97 L1386.24,1491.85 L1386.74,1491.73 L1387.24,1491.61 L1387.70,1491.49 L1387.74,1491.48 L1388.24,1491.36 L1388.74,1491.23 L1389.24,1491.10 L1389.70,1490.98 L1389.74,1490.97 L1390.24,1490.83 L1390.74,1490.70 L1391.24,1490.56 L1391.70,1490.43 L1391.74,1490.42 L1392.24,1490.28 L1392.74,1490.14 L1393.24,1489.99 L1393.70,1489.86 L1393.74,1489.84 L1394.24,1489.70 L1394.74,1489.54 L1395.24,1489.39 L1395.70,1489.25 L1395.74,1489.24 L1396.24,1489.08 L1396.74,1488.92 L1397.24,1488.76 L1397.70,1488.60 L1397.74,1488.59 L1398.24,1488.42 L1398.74,1488.25 L1399.24,1488.08 L1399.70,1487.92 L1399.74,1487.91 L1400.24,1487.73 L1400.74,1487.55 L1401.24,1487.37 L1401.70,1487.20 L1401.74,1487.18 L1402.24,1487.00 L1402.74,1486.81 L1403.24,1486.61 L1403.70,1486.43 L1403.74,1486.42 L1404.24,1486.22 L1404.74,1486.01 L1405.24,1485.81 L1405.70,1485.62 L1405.74,1485.60 L1406.24,1485.39 L1406.74,1485.17 L1407.24,1484.95 L1407.70,1484.75 L1407.74,1484.73 L1408.24,1484.50 L1408.74,1484.27 L1409.24,1484.04 L1409.70,1483.82 L1409.74,1483.80 L1410.24,1483.56 L1410.74,1483.32 L1411.24,1483.07 L1411.70,1482.83 L1411.74,1482.81 L1412.24,1482.56 L1412.74,1482.30 L1413.24,1482.03 L1413.70,1481.78 L1413.74,1481.76 L1414.24,1481.48 L1414.74,1481.20 L1415.24,1480.92 L1415.70,1480.65 L1415.74,1480.63 L1416.24,1480.33 L1416.74,1480.03 L1417.24,1479.73 L1417.70,1479.44 L1417.74,1479.42 L1418.24,1479.10 L1418.74,1478.78 L1419.24,1478.45 L1419.70,1478.14 L1419.74,1478.11 L1420.24,1477.77 L1420.74,1477.43 L1421.24,1477.08 L1421.70,1476.74 L1421.74,1476.72 L1422.24,1476.35 L1422.74,1475.98 L1423.24,1475.60 L1423.70,1475.24 L1423.74,1475.21 L1424.24,1474.81 L1424.74,1474.41 L1425.24,1474.00 L1425.70,1473.62 L1425.74,1473.58 L1426.24,1473.16 L1426.74,1472.72 L1427.24,1472.28 L1427.70,1471.86 L1427.74,1471.82 L1428.24,1471.36 L1428.74,1470.89 L1429.24,1470.41 L1429.70,1469.96 L1429.74,1469.92 L1430.24,1469.42 L1430.74,1468.91 L1431.24,1468.38 L1431.70,1467.89 L1431.74,1467.85 L1432.24,1467.31 L1432.74,1466.75 L1433.24,1466.18 L1433.70,1465.65 L1433.74,1465.60 L1434.24,1465.01 L1434.74,1464.40 L1435.24,1463.78 L1435.70,1463.20 L1435.74,1463.15 L1436.24,1462.50 L1436.74,1461.83 L1437.24,1461.16 L1437.70,1460.52 L1437.74,1460.46 L1438.24,1459.75 L1438.74,1459.02 L1439.24,1458.28 L1439.70,1457.58 L1439.74,1457.52 L1440.24,1456.74 L1440.74,1455.94 L1441.24,1455.12 L1441.70,1454.35 L1441.74,1454.28 L1442.24,1453.43 L1442.74,1452.55 L1443.24,1451.64 L1443.70,1450.79 L1443.74,1450.72 L1444.24,1449.77 L1444.74,1448.80 L1445.24,1447.80 L1445.70,1446.86 L1445.74,1446.77 L1446.24,1445.72 L1446.74,1444.64 L1447.24,1443.53 L1447.70,1442.49 L1447.74,1442.40 L1448.24,1441.23 L1448.74,1440.03 L1449.24,1438.79 L1449.70,1437.62 L1449.74,1437.52 L1450.24,1436.22 L1450.74,1434.87 L1451.24,1433.49 L1451.70,1432.19 L1451.74,1432.07 L1452.24,1430.61 L1452.74,1429.11 L1453.24,1427.56 L1453.70,1426.09 L1453.74,1425.96 L1454.24,1424.32 L1454.74,1422.62 L1455.24,1420.87 L1455.70,1419.22 L1455.74,1419.07 L1456.24,1417.22 L1456.74,1415.30 L1457.24,1413.32 L1457.70,1411.44 L1457.74,1411.28 L1458.24,1409.17 L1458.74,1406.99 L1459.24,1404.74 L1459.70,1402.60 L1459.74,1402.41 L1460.24,1400.00 L1460.74,1397.51 L1461.24,1394.94 L1461.70,1392.49 L1461.74,1392.27 L1462.24,1389.51 L1462.74,1386.65 L1463.24,1383.69 L1463.70,1380.87 L1463.74,1380.62 L1464.24,1377.44 L1464.74,1374.13 L1465.24,1370.71 L1465.70,1367.44 L1465.74,1367.15 L1466.24,1363.45 L1466.74,1359.61 L1467.24,1355.62 L1467.70,1351.81 L1467.74,1351.47 L1468.24,1347.16 L1468.74,1342.67 L1469.24,1337.99 L1469.70,1333.52 L1469.74,1333.12 L1470.24,1328.04 L1470.74,1322.75 L1471.24,1317.23 L1471.70,1311.94 L1471.74,1311.47 L1472.24,1305.46 L1472.74,1299.18 L1473.24,1292.62 L1473.70,1286.32 L1473.74,1285.76 L1474.24,1278.59 L1474.74,1271.08 L1475.24,1263.22 L1475.70,1255.66 L1475.74,1254.99 L1476.24,1246.36 L1476.74,1237.32 L1477.24,1227.83 L1477.70,1218.69 L1477.74,1217.88 L1478.24,1207.43 L1478.74,1196.45 L1479.24,1184.92 L1479.70,1173.79 L1479.74,1172.80 L1480.24,1160.06 L1480.74,1146.65 L1481.24,1132.54 L1481.70,1118.91 L1481.74,1117.69 L1482.24,1102.06 L1482.74,1085.60 L1483.24,1068.26 L1483.70,1051.49 L1483.74,1050.00 L1484.24,1030.76 L1484.74,1010.50 L1485.24,989.17 L1485.70,968.55 L1485.74,966.71 L1486.24,943.07 L1486.74,918.22 L1487.24,892.10 L1487.70,866.92 L1487.74,864.67 L1488.24,835.91 L1488.74,805.79 L1489.24,774.29 L1489.70,744.11 L1489.74,741.43 L1490.24,707.23 L1490.74,671.72 L1491.24,634.99 L1491.70,600.21 L1491.74,597.14 L1492.24,558.31 L1492.74,518.68 L1493.24,478.49 L1493.70,441.25 L1493.74,438.01 L1494.24,397.58 L1494.74,357.57 L1495.24,318.44 L1495.70,283.63 L1495.74,280.67 L1496.24,244.77 L1496.74,211.31 L1497.24,180.83 L1497.70,155.91 L1497.74,153.90 L1498.24,131.04 L1498.74,112.72 L1499.24,99.33 L1499.70,91.62 L1499.74,91.17 L1500.24,88.43 L1500.74,91.17 L1501.24,99.33 L1501.70,111.46 L1501.74,112.72 L1502.24,131.04 L1502.74,153.90 L1503.24,180.83 L1503.70,208.75 L1503.74,211.31 L1504.24,244.77 L1504.74,280.67 L1505.24,318.44 L1505.70,354.41 L1505.74,357.57 L1506.24,397.58 L1506.74,438.01 L1507.24,478.49 L1507.70,515.49 L1507.74,518.68 L1508.24,558.31 L1508.74,597.14 L1509.24,634.99 L1509.70,668.83 L1509.74,671.72 L1510.24,707.23 L1510.74,741.43 L1511.24,774.29 L1511.70,803.32 L1511.74,805.79 L1512.24,835.91 L1512.74,864.67 L1513.24,892.10 L1513.70,916.18 L1513.74,918.22 L1514.24,943.07 L1514.74,966.71 L1515.24,989.17 L1515.70,1008.83 L1515.74,1010.50 L1516.24,1030.76 L1516.74,1050.00 L1517.24,1068.26 L1517.70,1084.24 L1517.74,1085.60 L1518.24,1102.06 L1518.74,1117.69 L1519.24,1132.54 L1519.70,1145.55 L1519.74,1146.65 L1520.24,1160.06 L1520.74,1172.80 L1521.24,1184.92 L1521.70,1195.55 L1521.74,1196.45 L1522.24,1207.43 L1522.74,1217.88 L1523.24,1227.83 L1523.70,1236.57 L1523.74,1237.32 L1524.24,1246.36 L1524.74,1254.99 L1525.24,1263.22 L1525.70,1270.46 L1525.74,1271.08 L1526.24,1278.59 L1526.74,1285.76 L1527.24,1292.62 L1527.70,1298.67 L1527.74,1299.18 L1528.24,1305.46 L1528.74,1311.47 L1529.24,1317.23 L1529.70,1322.32 L1529.74,1322.75 L1530.24,1328.04 L1530.74,1333.12 L1531.24,1337.99 L1531.70,1342.30 L1531.74,1342.67 L1532.24,1347.16 L1532.74,1351.47 L1533.24,1355.62 L1533.70,1359.30 L1533.74,1359.61 L1534.24,1363.45 L1534.74,1367.15 L1535.24,1370.71 L1535.70,1373.86 L1535.74,1374.13 L1536.24,1377.44 L1536.74,1380.62 L1537.24,1383.69 L1537.70,1386.42 L1537.74,1386.65 L1538.24,1389.51 L1538.74,1392.27 L1539.24,1394.94 L1539.70,1397.31 L1539.74,1397.51 L1540.24,1400.00 L1540.74,1402.41 L1541.24,1404.74 L1541.70,1406.81 L1541.74,1406.99 L1542.24,1409.17 L1542.74,1411.28 L1543.24,1413.32 L1543.70,1415.14 L1543.74,1415.30 L1544.24,1417.22 L1544.74,1419.07 L1545.24,1420.87 L1545.70,1422.48 L1545.74,1422.62 L1546.24,1424.32 L1546.74,1425.96 L1547.24,1427.56 L1547.70,1428.98 L1547.74,1429.11 L1548.24,1430.61 L1548.74,1432.07 L1549.24,1433.49 L1549.70,1434.77 L1549.74,1434.87 L1550.24,1436.22 L1550.74,1437.52 L1551.24,1438.79 L1551.70,1439.93 L1551.74,1440.03 L1552.24,1441.23 L1552.74,1442.40 L1553.24,1443.53 L1553.70,1444.55 L1553.74,1444.64 L1554.24,1445.72 L1554.74,1446.77 L1555.24,1447.80 L1555.70,1448.72 L1555.74,1448.80 L1556.24,1449.77 L1556.74,1450.72 L1557.24,1451.64 L1557.70,1452.47 L1557.74,1452.55 L1558.24,1453.43 L1558.74,1454.28 L1559.24,1455.12 L1559.70,1455.88 L1559.74,1455.94 L1560.24,1456.74 L1560.74,1457.52 L1561.24,1458.28 L1561.70,1458.97 L1561.74,1459.02 L1562.24,1459.75 L1562.74,1460.46 L1563.24,1461.16 L1563.70,1461.78 L1563.74,1461.83 L1564.24,1462.50 L1564.74,1463.15 L1565.24,1463.78 L1565.70,1464.35 L1565.74,1464.40 L1566.24,1465.01 L1566.74,1465.60 L1567.24,1466.18 L1567.70,1466.71 L1567.74,1466.75 L1568.24,1467.31 L1568.74,1467.85 L1569.24,1468.38 L1569.70,1468.87 L1569.74,1468.91 L1570.24,1469.42 L1570.74,1469.92 L1571.24,1470.41 L1571.70,1470.85 L1571.74,1470.89 L1572.24,1471.36 L1572.74,1471.82 L1573.24,1472.28 L1573.70,1472.69 L1573.74,1472.72 L1574.24,1473.16 L1574.74,1473.58 L1575.24,1474.00 L1575.70,1474.38 L1575.74,1474.41 L1576.24,1474.81 L1576.74,1475.21 L1577.24,1475.60 L1577.70,1475.95 L1577.74,1475.98 L1578.24,1476.35 L1578.74,1476.72 L1579.24,1477.08 L1579.70,1477.40 L1579.74,1477.43 L1580.24,1477.77 L1580.74,1478.11 L1581.24,1478.45 L1581.70,1478.75 L1581.74,1478.78 L1582.24,1479.10 L1582.74,1479.42 L1583.24,1479.73 L1583.70,1480.01 L1583.74,1480.03 L1584.24,1480.33 L1584.74,1480.63 L1585.24,1480.92 L1585.70,1481.18 L1585.74,1481.20 L1586.24,1481.48 L1586.74,1481.76 L1587.24,1482.03 L1587.70,1482.27 L1587.74,1482.30 L1588.24,1482.56 L1588.74,1482.81 L1589.24,1483.07 L1589.70,1483.30 L1589.74,1483.32 L1590.24,1483.56 L1590.74,1483.80 L1591.24,1484.04 L1591.70,1484.26 L1591.74,1484.27 L1592.24,1484.50 L1592.74,1484.73 L1593.24,1484.95 L1593.70,1485.15 L1593.74,1485.17 L1594.24,1485.39 L1594.74,1485.60 L1595.24,1485.81 L1595.70,1486.00 L1595.74,1486.01 L1596.24,1486.22 L1596.74,1486.42 L1597.24,1486.61 L1597.70,1486.79 L1597.74,1486.81 L1598.24,1487.00 L1598.74,1487.18 L1599.24,1487.37 L1599.70,1487.54 L1599.74,1487.55 L1600.24,1487.73 L1600.74,1487.91 L1601.24,1488.08 L1601.70,1488.24 L1601.74,1488.25 L1602.24,1488.42 L1602.74,1488.59 L1603.24,1488.76 L1603.70,1488.90 L1603.74,1488.92 L1604.24,1489.08 L1604.74,1489.24 L1605.24,1489.39 L1605.70,1489.53 L1605.74,1489.54 L1606.24,1489.70 L1606.74,1489.84 L1607.24,1489.99 L1607.70,1490.12 L1607.74,1490.14 L1608.24,1490.28 L1608.74,1490.42 L1609.24,1490.56 L1609.70,1490.69 L1609.74,1490.70 L1610.24,1490.83 L1610.74,1490.97 L1611.24,1491.10 L1611.70,1491.22 L1611.74,1491.23 L1612.24,1491.36 L1612.74,1491.48 L1613.24,1491.61 L1613.70,1491.72 L1613.74,1491.73 L1614.24,1491.85 L1614.74,1491.97 L1615.24,1492.09 L1615.70,1492.20 L1615.74,1492.21 L1616.24,1492.33 L1616.74,1492.44 L1617.24,1492.55 L1617.70,1492.65 L1617.74,1492.66 L1618.24,1492.77 L1618.74,1492.88 L1619.24,1492.99 L1619.70,1493.09 L1619.74,1493.10 L1620.24,1493.20 L1621.70,1493.50 L1623.70,1493.89 L1625.70,1494.26 L1627.70,1494.62 L1629.70,1494.96 L1631.70,1495.28 L1633.70,1495.59 L1635.70,1495.89 L1637.70,1496.17 L1639.70,1496.45 L1641.70,1496.71 L1643.70,1496.96 L1645.70,1497.20 L1647.70,1497.43 L1649.70,1497.65 L1651.70,1497.86 L1653.70,1498.06 L1655.70,1498.26 L1657.70,1498.45 L1659.70,1498.63 L1661.70,1498.81 L1663.70,1498.98 L1665.70,1499.14 L1667.70,1499.30 L1669.70,1499.45 L1671.70,1499.59 L1673.70,1499.74 L1675.70,1499.87 L1677.70,1500.00 L1679.70,1500.13 L1681.70,1500.26 L1683.70,1500.38 L1685.70,1500.49 L1687.70,1500.60 L1689.70,1500.71 L1691.70,1500.82 L1693.70,1500.92 L1695.70,1501.02 L1697.70,1501.11 L1699.70,1501.21 L1701.70,1501.29 L1703.70,1501.38 L1705.70,1501.46 L1707.70,1501.54 L1709.70,1501.61 L1711.70,1501.68 L1713.70,1501.76 L1715.70,1501.83 L1717.70,1501.89 L1719.70,1501.96 L1721.70,1502.02 L1723.70,1502.08 L1725.70,1502.14 L1727.70,1502.20 L1729.70,1502.26 L1731.70,1502.31 L1733.70,1502.37 L1735.70,1502.42 L1737.70,1502.47 L1739.70,1502.52 L1741.70,1502.57 L1743.70,1502.61 L1745.70,1502.66 L1747.70,1502.70 L1749.70,1502.75 L1751.70,1502.79 L1752.00,1502.79 L1753.70,1502.83 L1755.70,1502.87 L1757.70,1502.91 L1759.70,1502.94 L1761.70,1502.98 L1763.70,1503.02 L1765.70,1503.05 L1767.70,1503.09 L1769.70,1503.12 L1771.70,1503.15 L1773.70,1503.18 L1775.70,1503.21 L1777.70,1503.24 L1779.70,1503.27 L1781.70,1503.30 L1783.70,1503.33 L1785.70,1503.36 L1787.70,1503.38 L1789.70,1503.41 L1791.70,1503.43 L1793.70,1503.46 L1795.70,1503.48 L1797.70,1503.51 L1799.70,1503.53 L1801.70,1503.55 L1803.70,1503.57 L1805.70,1503.60 L1807.70,1503.62 L1809.70,1503.64 L1811.70,1503.66 L1813.70,1503.68 L1815.70,1503.70 L1817.70,1503.71 L1819.70,1503.73 L1821.70,1503.75 L1823.70,1503.77 L1825.70,1503.78 L1827.70,1503.80 L1829.70,1503.82 L1831.70,1503.83 L1833.70,1503.85 L1835.70,1503.86 L1837.70,1503.88 L1839.70,1503.89 L1841.70,1503.91 L1843.70,1503.92 L1845.70,1503.93 L1847.70,1503.95 L1849.70,1503.96 L1851.70,1503.97 L1853.70,1503.98 L1855.70,1504.00 L1857.70,1504.01 L1859.70,1504.02 L1861.70,1504.03 L1863.70,1504.04 L1865.70,1504.05 L1867.70,1504.06 L1869.70,1504.07 L1871.70,1504.08 L1873.70,1504.09 L1875.70,1504.10 L1877.70,1504.11 L1879.70,1504.12 L1881.70,1504.13 L1883.70,1504.14 L1885.70,1504.15 L1887.70,1504.15 L1889.70,1504.16 L1891.70,1504.17 L1893.70,1504.18 L1895.70,1504.18 L1897.70,1504.19 L1899.70,1504.20 L1901.70,1504.21 L1903.70,1504.21 L1905.70,1504.22 L1907.70,1504.23 L1909.70,1504.23 L1911.70,1504.24 L1913.70,1504.24 L1915.70,1504.25 L1917.70,1504.26 L1919.70,1504.26 L1921.70,1504.27 L1923.70,1504.27 L1925.70,1504.28 L1927.70,1504.28 L1929.70,1504.29 L1931.70,1504.29 L1933.70,1504.30 L1935.70,1504.30 L1937.70,1504.30 L1939.70,1504.31 L1941.70,1504.31 L1943.70,1504.32 L1945.70,1504.32 L1947.70,1504.32 L1949.70,1504.33 L1951.70,1504.33 L1953.70,1504.33 L1955.70,1504.34 L1957.70,1504.34 L1959.70,1504.34 L1961.70,1504.35 L1963.70,1504.35 L1965.70,1504.35 L1967.70,1504.36 L1969.70,1504.36 L1971.70,1504.36 L1973.70,1504.36 L1975.70,1504.37 L1977.70,1504.37 L1979.70,1504.37 L1981.70,1504.37 L1983.70,1504.37 L1985.70,1504.38 L1987.70,1504.38 L1989.70,1504.38 L1991.70,1504.38 L1993.70,1504.38 L1995.70,1504.39 L1997.70,1504.39 L1999.70,1504.39 L2001.70,1504.39 L2003.70,1504.39 L2005.70,1504.39 L2007.70,1504.39 L2009.70,1504.39 L2011.70,1504.40 L2013.70,1504.40 L2015.70,1504.40 L2017.70,1504.40 L2019.70,1504.40 L2021.70,1504.40 L2023.70,1504.40 L2025.70,1504.40 L2027.70,1504.40 L2029.70,1504.40 L2031.70,1504.40 L2033.70,1504.40 L2035.70,1504.40 L2037.70,1504.40 L2039.70,1504.40 L2041.70,1504.40 L2043.70,1504.40 L2045.70,1504.40 L2047.70,1504.40 L2049.70,1504.40 L2051.70,1504.40 L2053.70,1504.40 L2055.70,1504.40 L2057.70,1504.40 L2059.70,1504.40 L2061.70,1504.40 L2063.70,1504.40 L2065.70,1504.40 L2067.70,1504.40 L2069.70,1504.40 L2071.70,1504.40 L2073.70,1504.40 L2075.70,1504.40 L2077.70,1504.40 L2079.70,1504.40 L2081.70,1504.40 L2083.70,1504.40 L2085.70,1504.40 L2087.70,1504.39 L2089.70,1504.39 L2091.70,1504.39 L2093.70,1504.39 L2095.70,1504.39 L2097.70,1504.39 L2099.70,1504.39 L2101.70,1504.39 L2103.70,1504.39 L2105.70,1504.39 L2107.70,1504.38 L2109.70,1504.38 L2111.70,1504.38 L2113.70,1504.38 L2115.70,1504.38 L2117.70,1504.38 L2119.70,1504.38 L2121.70,1504.38 L2123.70,1504.37 L2125.70,1504.37 L2127.70,1504.37 L2129.70,1504.37 L2131.70,1504.37 L2133.70,1504.37 L2135.70,1504.36 L2137.70,1504.36 L2139.70,1504.36 L2141.70,1504.36 L2143.70,1504.36 L2145.70,1504.36 L2145.80,1504.36" stroke="#00ff00"/>
<path d="M321.70,1409.77 L323.70,1413.21 L325.70,1416.52 L327.70,1419.70 L329.70,1422.76 L331.70,1425.69 L333.70,1428.50 L335.70,1431.20 L337.70,1433.78 L339.70,1436.26 L341.70,1438.64 L343.70,1440.91 L345.70,1443.09 L347.47,1444.94M377.60,1467.86 L377.70,1467.92 L379.70,1469.00 L381.70,1470.03 L383.70,1471.03 L384.63,1471.48M414.77,1482.58 L415.70,1482.84 L417.70,1483.38 L419.70,1483.90 L421.70,1484.41 L421.80,1484.43M451.94,1490.41 L453.70,1490.68 L455.70,1490.98 L457.70,1491.27 L459.70,1491.56 L461.70,1491.84 L463.70,1492.11 L465.70,1492.37 L467.70,1492.62 L469.70,1492.87 L471.70,1493.12 L473.70,1493.35 L475.70,1493.58 L477.70,1493.80 L479.70,1494.02 L481.70,1494.24 L483.70,1494.44 L485.70,1494.65 L487.11,1494.78M517.25,1497.27 L517.70,1497.30 L519.70,1497.43 L521.70,1497.56 L523.70,1497.69 L524.28,1497.73M554.42,1499.37 L555.70,1499.43 L557.70,1499.52 L559.70,1499.61 L561.45,1499.69M591.59,1500.83 L591.70,1500.83 L593.70,1500.90 L595.70,1500.96 L597.70,1501.02 L599.70,1501.09 L601.70,1501.15 L603.70,1501.21 L605.70,1501.26 L607.70,1501.32 L609.70,1501.38 L611.70,1501.43 L613.70,1501.49 L615.70,1501.54 L617.70,1501.60 L619.70,1501.65 L621.70,1501.70 L623.70,1501.75 L625.70,1501.80 L626.76,1501.82M656.90,1502.48 L657.70,1502.49 L659.70,1502.53 L661.70,1502.57 L663.70,1502.61 L663.93,1502.61M694.07,1503.10 L695.70,1503.13 L697.70,1503.16 L699.70,1503.19 L701.10,1503.20M731.24,1503.59 L731.70,1503.59 L733.70,1503.61 L735.70,1503.64 L737.70,1503.66 L739.70,1503.68 L741.70,1503.70 L743.70,1503.72 L745.70,1503.75 L747.70,1503.77 L749.70,1503.79 L751.70,1503.81 L753.70,1503.83 L755.70,1503.85 L757.70,1503.87 L759.70,1503.89 L761.70,1503.90 L763.70,1503.92 L765.70,1503.94 L766.41,1503.95M796.55,1504.20 L797.70,1504.21 L799.70,1504.22 L801.70,1504.24 L803.58,1504.25M833.72,1504.46 L835.70,1504.47 L837.70,1504.48 L839.70,1504.49 L840.75,1504.50M870.89,1504.67 L871.70,1504.67 L873.70,1504.68 L875.70,1504.69 L877.70,1504.70 L879.70,1504.71 L881.70,1504.72 L883.70,1504.73 L885.70,1504.74 L887.70,1504.75 L889.70,1504.76 L891.70,1504.76 L893.70,1504.77 L895.70,1504.78 L897.70,1504.79 L899.70,1504.80 L901.70,1504.81 L903.70,1504.82 L905.70,1504.83 L906.06,1504.83M936.20,1504.94 L937.70,1504.95 L939.70,1504.96 L941.70,1504.96 L943.23,1504.97M973.37,1505.06 L973.70,1505.06 L975.70,1505.07 L977.70,1505.08 L979.70,1505.08 L980.40,1505.08M1004.00,1505.15 L1005.70,1505.15 L1007.70,1505.16 L1009.70,1505.16 L1011.70,1505.16 L1013.70,1505.17 L1015.70,1505.17 L1017.70,1505.18 L1019.70,1505.18 L1021.70,1505.19 L1023.70,1505.19 L1025.70,1505.20 L1027.70,1505.20 L1029.70,1505.21 L1031.70,1505.21 L1033.70,1505.21 L1035.70,1505.22 L1037.70,1505.22 L1039.16,1505.23M1069.30,1505.28 L1069.70,1505.28 L1071.70,1505.29 L1073.70,1505.29 L1075.70,1505.29 L1076.34,1505.29M1106.48,1505.34 L1107.70,1505.34 L1109.70,1505.34 L1111.70,1505.34 L1113.51,1505.35M1143.65,1505.38 L1143.70,1505.38 L1145.70,1505.38 L1147.70,1505.38 L1149.70,1505.38 L1151.70,1505.39 L1153.70,1505.39 L1155.70,1505.39 L1157.70,1505.39 L1159.70,1505.39 L1161.70,1505.39 L1163.70,1505.40 L1165.70,1505.40 L1167.70,1505.40 L1169.70,1505.40 L1171.70,1505.40 L1173.70,1505.40 L1175.70,1505.40 L1177.70,1505.41 L1178.81,1505.41M1208.95,1505.42 L1209.70,1505.42 L1211.70,1505.42 L1213.70,1505.42 L1215.70,1505.42 L1215.99,1505.42M1246.13,1505.43 L1247.70,1505.43 L1249.70,1505.43 L1251.70,1505.43 L1253.16,1505.43M1283.30,1505.42 L1283.70,1505.42 L1285.70,1505.42 L1287.70,1505.42 L1289.70,1505.42 L1291.70,1505.42 L1293.70,1505.42 L1295.70,1505.42 L1297.70,1505.42 L1299.70,1505.42 L1301.70,1505.42 L1303.70,1505.42 L1305.70,1505.42 L1307.70,1505.41 L1309.70,1505.41 L1311.70,1505.41 L1313.70,1505.41 L1315.70,1505.41 L1317.70,1505.41 L1318.46,1505.41M1348.60,1505.38 L1349.70,1505.38 L1351.70,1505.38 L1353.70,1505.38 L1355.64,1505.37M1385.78,1505.33 L1387.70,1505.33 L1389.70,1505.33 L1391.70,1505.32 L1392.81,1505.32M1422.95,1505.26 L1423.70,1505.26 L1425.70,1505.26 L1427.70,1505.25 L1429.70,1505.25 L1431.70,1505.24 L1433.70,1505.24 L1435.70,1505.23 L1437.70,1505.23 L1439.70,1505.22 L1441.70,1505.22 L1443.70,1505.21 L1445.70,1505.21 L1447.70,1505.20 L1449.70,1505.20 L1451.70,1505.19 L1453.70,1505.19 L1455.70,1505.18 L1457.70,1505.17 L1458.11,1505.17M1488.25,1505.07 L1489.70,1505.07 L1491.70,1505.06 L1493.70,1505.05 L1495.29,1505.04M1525.43,1504.91 L1525.70,1504.91 L1527.70,1504.90 L1529.70,1504.89 L1531.70,1504.88 L1532.46,1504.87M1562.60,1504.69 L1563.70,1504.68 L1565.70,1504.66 L1567.70,1504.65 L1569.70,1504.63 L1571.70,1504.62 L1573.70,1504.60 L1575.70,1504.59 L1577.70,1504.57 L1579.70,1504.56 L1581.70,1504.54 L1583.70,1504.52 L1585.70,1504.51 L1587.70,1504.49 L1589.70,1504.47 L1591.70,1504.45 L1593.70,1504.44 L1595.70,1504.42 L1597.70,1504.40 L1597.76,1504.40M1627.90,1504.07 L1629.70,1504.04 L1631.70,1504.02 L1633.70,1503.99 L1634.94,1503.97M1665.08,1503.49 L1665.70,1503.48 L1667.70,1503.44 L1669.70,1503.40 L1671.70,1503.36 L1672.11,1503.36M1702.25,1502.63 L1703.70,1502.59 L1705.70,1502.53 L1707.70,1502.47 L1709.70,1502.41 L1711.70,1502.34 L1713.70,1502.28 L1715.70,1502.21 L1717.70,1502.14 L1719.70,1502.07 L1721.70,1502.00 L1723.70,1501.92 L1725.70,1501.84 L1727.70,1501.77 L1729.70,1501.68 L1731.70,1501.60 L1733.70,1501.52 L1735.70,1501.43 L1737.41,1501.35M1752.00,1500.60 L1753.70,1500.51 L1755.70,1500.39 L1757.70,1500.26 L1759.70,1500.14 L1761.70,1500.01 L1763.70,1499.87 L1765.70,1499.73 L1767.70,1499.59 L1769.70,1499.44 L1771.70,1499.28 L1773.70,1499.12 L1775.70,1498.96 L1777.70,1498.79 L1779.70,1498.61 L1781.70,1498.43 L1783.70,1498.24 L1785.70,1498.04 L1787.16,1497.89M1817.30,1493.62 L1817.70,1493.54 L1819.70,1493.14 L1821.70,1492.73 L1823.70,1492.29 L1824.34,1492.14M1854.48,1481.68 L1854.70,1481.57 L1855.20,1481.30 L1855.70,1481.03 L1856.20,1480.76 L1856.70,1480.48 L1857.20,1480.20 L1857.70,1479.91 L1858.20,1479.62 L1858.70,1479.33 L1859.20,1479.03 L1859.70,1478.72 L1860.20,1478.41 L1860.70,1478.09 L1861.20,1477.77 L1861.51,1477.57M1886.84,1449.60 L1887.20,1448.95 L1887.70,1448.02 L1888.20,1447.07 L1888.70,1446.10 L1889.20,1445.10 L1889.70,1444.08 L1890.20,1443.03 L1890.70,1441.96 L1891.20,1440.86 L1891.70,1439.73 L1892.20,1438.58 L1892.70,1437.39 L1893.20,1436.17 L1893.70,1434.92 L1894.20,1433.64 L1894.70,1432.32 L1895.20,1430.97 L1895.70,1429.58 L1896.20,1428.15 L1896.70,1426.68 L1897.20,1425.17 L1897.70,1423.62 L1898.20,1422.03 L1898.70,1420.39 L1899.20,1418.70 L1899.70,1416.96 L1900.20,1415.18 L1900.40,1414.44M1907.05,1384.30 L1907.20,1383.50 L1907.70,1380.65 L1908.20,1377.70 L1908.27,1377.27M1912.56,1347.13 L1912.70,1346.00 L1913.20,1341.80 L1913.40,1340.10M1916.47,1309.95 L1916.70,1307.47 L1917.20,1301.75 L1917.70,1295.80 L1918.20,1289.59 L1918.70,1283.13 L1919.20,1276.39 L1919.31,1274.79M1921.30,1244.65 L1921.70,1238.03 L1921.72,1237.62M1923.36,1207.48 L1923.70,1200.66 L1923.71,1200.45M1925.09,1170.30 L1925.20,1167.83 L1925.70,1155.83 L1926.20,1143.26 L1926.51,1135.14M1927.59,1105.00 L1927.70,1101.77 L1927.83,1097.97M1928.78,1067.83 L1928.99,1060.80M1929.85,1030.65 L1930.20,1017.93 L1930.70,998.62 L1930.78,995.49M1931.51,965.35 L1931.67,958.32M1932.34,928.18 L1932.49,921.15M1933.12,891.00 L1933.20,887.16 L1933.70,861.64 L1933.81,855.84M1934.37,825.70 L1934.49,818.67M1935.02,788.53 L1935.14,781.50M1935.64,751.35 L1935.70,747.96 L1936.20,716.63 L1936.21,716.19M1936.67,686.05 L1936.70,684.18 L1936.78,679.02M1937.23,648.88 L1937.33,641.85M1937.76,611.70 L1938.20,580.66 L1938.26,576.54M1938.67,546.40 L1938.70,544.43 L1938.77,539.37M1939.18,509.23 L1939.20,507.57 L1939.27,502.20M1939.68,472.05 L1939.70,470.27 L1940.15,436.89M1940.55,406.75 L1940.64,399.72M1941.05,369.58 L1941.14,362.55M1941.56,332.40 L1941.70,321.90 L1942.05,297.24M1942.49,267.10 L1942.59,260.07M1943.06,229.93 L1943.17,222.90M1943.68,192.75 L1943.70,191.54 L1944.20,164.88 L1944.36,157.59M1945.05,127.45 L1945.20,121.69 L1945.24,120.42M1946.50,90.28 L1946.70,87.43 L1947.20,85.08 L1947.59,86.92M1949.05,117.06 L1949.20,121.69 L1949.70,141.47 L1949.93,152.23M1950.53,182.37 L1950.66,189.40M1951.18,219.54 L1951.20,221.01 L1951.29,226.57M1951.76,256.71 L1952.20,286.63 L1952.27,291.88M1952.70,322.02 L1952.80,329.05M1953.21,359.19 L1953.31,366.22M1953.71,396.36 L1954.18,431.53M1954.59,461.67 L1954.68,468.70M1955.08,498.84 L1955.18,505.87M1955.59,536.01 L1955.70,544.43 L1956.07,571.18M1956.49,601.32 L1956.59,608.35M1957.02,638.49 L1957.13,645.52M1957.57,675.66 L1957.70,684.18 L1958.11,710.83M1958.59,740.97 L1958.70,747.97M1959.20,778.14 L1959.32,785.17M1959.85,815.31 L1960.20,834.98 L1960.49,850.48M1961.07,880.62 L1961.20,887.17 L1961.21,887.65M1961.83,917.79 L1961.98,924.82M1962.65,954.96 L1962.70,957.14 L1963.20,978.38 L1963.49,990.13M1964.26,1020.27 L1964.45,1027.30M1965.31,1057.44 L1965.52,1064.47M1966.46,1094.61 L1966.70,1101.78 L1967.20,1116.27 L1967.69,1129.78M1968.87,1159.92 L1969.16,1166.95M1970.53,1197.09 L1970.70,1200.67 L1970.87,1204.12M1972.48,1234.26 L1972.70,1238.04 L1973.20,1246.39 L1973.70,1254.38 L1974.20,1262.04 L1974.70,1269.37 L1974.70,1269.43M1977.02,1299.57 L1977.20,1301.77 L1977.62,1306.60M1980.62,1336.74 L1980.70,1337.46 L1981.20,1341.82 L1981.43,1343.77M1985.58,1373.91 L1985.70,1374.67 L1986.20,1377.72 L1986.70,1380.67 L1987.20,1383.52 L1987.70,1386.28 L1988.20,1388.95 L1988.70,1391.53 L1989.20,1394.03 L1989.70,1396.46 L1990.20,1398.80 L1990.70,1401.08 L1991.20,1403.28 L1991.70,1405.42 L1992.20,1407.50 L1992.59,1409.08M2002.46,1439.22 L2002.70,1439.76 L2003.20,1440.89 L2003.70,1441.99 L2004.20,1443.06 L2004.70,1444.11 L2005.20,1445.13 L2005.70,1446.13 L2005.76,1446.25M2029.50,1475.25 L2029.70,1475.40 L2030.20,1475.76 L2030.70,1476.12 L2031.20,1476.47 L2031.70,1476.82 L2032.20,1477.16 L2032.70,1477.49 L2033.20,1477.82 L2033.70,1478.14 L2034.20,1478.45 L2034.70,1478.77 L2035.20,1479.07 L2035.70,1479.37 L2036.20,1479.67 L2036.53,1479.86M2066.67,1491.41 L2067.20,1491.54 L2067.70,1491.66 L2069.70,1492.13 L2071.70,1492.58 L2073.70,1493.00 L2075.70,1493.41 L2077.70,1493.80 L2079.70,1494.17 L2081.70,1494.53 L2083.70,1494.87 L2085.70,1495.19 L2087.70,1495.51 L2089.70,1495.81 L2091.70,1496.09 L2093.70,1496.37 L2095.70,1496.63 L2097.70,1496.89 L2099.70,1497.13 L2101.70,1497.37 L2101.83,1497.38M2131.97,1500.05 L2133.70,1500.17 L2135.70,1500.30 L2137.70,1500.43 L2139.01,1500.51" stroke="#0000ff"/>
</g>
<g font-family="Liberation Sans, Arial, sans-serif" font-weight="bold" font-size="73.5" fill="#000">
<text x="249.73" y="0" transform="translate(0 1524.70) scale(0.951 1)">0</text>
<text x="212.92 249.73" y="0" transform="translate(0 1382.58) scale(0.951 1)" clip-path="url(#f1_0)">10</text>
<text x="211.03 249.73" y="0" transform="translate(0 1240.46) scale(0.951 1)">20</text>
<text x="211.03 249.73" y="0" transform="translate(0 1098.34) scale(0.951 1)">30</text>
<text x="211.03 249.73" y="0" transform="translate(0 956.22) scale(0.951 1)">40</text>
<text x="211.03 249.73" y="0" transform="translate(0 814.10) scale(0.951 1)">50</text>
<text x="211.03 249.73" y="0" transform="translate(0 671.98) scale(0.951 1)">60</text>
<text x="211.03 249.73" y="0" transform="translate(0 529.86) scale(0.951 1)">70</text>
<text x="211.03 249.73" y="0" transform="translate(0 387.74) scale(0.951 1)">80</text>
<text x="211.03 249.73" y="0" transform="translate(0 245.62) scale(0.951 1)">90</text>
<text x="174.22 211.03 249.73" y="0" transform="translate(0 103.50) scale(0.951 1)" clip-path="url(#f1_1)">100</text>
<text x="398.34 437.04 455.29 493.99" y="0" transform="translate(0 1620.00) scale(0.951 1)">0.50</text>
<text x="718.00 756.70 774.94 815.54" y="0" transform="translate(0 1620.00) scale(0.951 1)" clip-path="url(#f1_2)">0.51</text>
<text x="1037.66 1076.36 1094.60 1133.30" y="0" transform="translate(0 1620.00) scale(0.951 1)">0.52</text>
<text x="1357.31 1396.01 1414.26 1452.96" y="0" transform="translate(0 1620.00) scale(0.951 1)">0.53</text>
<text x="1676.97 1715.67 1733.91 1772.62" y="0" transform="translate(0 1620.00) scale(0.951 1)">0.54</text>
<text x="1996.63 2035.33 2053.57 2092.27" y="0" transform="translate(0 1620.00) scale(0.951 1)">0.55</text>
</g>
<text x="0.00 54.07 84.66 162.24" y="0" transform="translate(108.0 938.59) rotate(-90) scale(0.9385 1)" font-family="Liberation Sans, Arial, sans-serif" font-weight="bold" font-size="84.5" fill="#000">T[%]</text>
<g font-size="84" fill="#000"><text x="1128.1" y="1757.6" font-family="Liberation Serif, serif">λ</text><text x="1169.5" y="1754.6" font-family="Liberation Sans, sans-serif" font-weight="bold">(</text><text x="-24.36" y="0" transform="translate(1220.25 1754.6) scale(1.187 1)" font-family="Liberation Serif, serif">μ</text><text x="1239.85 1313.1" y="1754.6" font-family="Liberation Sans, sans-serif" font-weight="bold">m)</text></g>
<rect x="874.9" y="209.15" width="524.7" height="382.65" fill="none" stroke="#000" stroke-width="3.8"/>
<g fill="none" stroke-width="11.3" stroke-linecap="round">
<line x1="911" y1="273.7" x2="1067.6" y2="273.7" stroke="#000" stroke-dasharray="6.4 49"/>
<line x1="911" y1="361.5" x2="1067.6" y2="361.5" stroke="#ff0000" stroke-dasharray="15 26.8"/>
<line x1="911" y1="450.0" x2="1067.6" y2="450.0" stroke="#00ff00"/>
<line x1="911" y1="537.8" x2="1067.6" y2="537.8" stroke="#0000ff" stroke-dasharray="35 30 7 30 7 30"/>
</g>
<g font-family="Liberation Serif, Times New Roman, serif" font-weight="bold" font-size="72" fill="#000">
<text x="1085.1" y="295.8">V</text>
<text x="1132.7" y="295.8" transform="translate(1155.30 272.31) scale(1.134 0.850) translate(-1153.02 -271.91)">=</text>
<text x="1174.7 1209.7 1226.7 1261.6 1298.4" y="295.8">0.96v</text>
<text x="1085.1" y="383.7">V</text>
<text x="1132.7" y="383.7" transform="translate(1155.30 360.21) scale(1.134 0.850) translate(-1153.02 -359.81)">=</text>
<text x="1174.2 1209.7 1226.7 1261.3 1298.4" y="383.7">1.01v</text>
<text x="1085.1" y="471.8">V</text>
<text x="1132.7" y="471.8" transform="translate(1155.30 448.31) scale(1.134 0.850) translate(-1153.02 -447.91)">=</text>
<text x="1174.2 1209.7 1226.4 1260.8 1297.2 1332.7" y="471.8">1.125v</text>
<text x="1085.1" y="559.9">V</text>
<text x="1132.7" y="559.9" transform="translate(1155.30 536.41) scale(1.134 0.850) translate(-1153.02 -536.01)">=</text>
<text x="1174.2 1209.7 1226.4 1261.6 1298.4" y="559.9">1.19v</text>
</g>
<defs><clipPath id="f1_0"><path clip-rule="evenodd" d="M-500,-500 H2700 V500 H-500 Z M216.51,-7.80 H230.07 V3.00 H216.51 Z M240.16,-7.80 H252.75 V3.00 H240.16 Z"/></clipPath><clipPath id="f1_1"><path clip-rule="evenodd" d="M-500,-500 H2700 V500 H-500 Z M177.81,-7.80 H191.37 V3.00 H177.81 Z M201.46,-7.80 H214.05 V3.00 H201.46 Z"/></clipPath><clipPath id="f1_2"><path clip-rule="evenodd" d="M-500,-500 H2700 V500 H-500 Z M819.13,-7.80 H832.69 V3.00 H819.13 Z M842.78,-7.80 H855.37 V3.00 H842.78 Z"/></clipPath></defs>
</svg></body></html>
